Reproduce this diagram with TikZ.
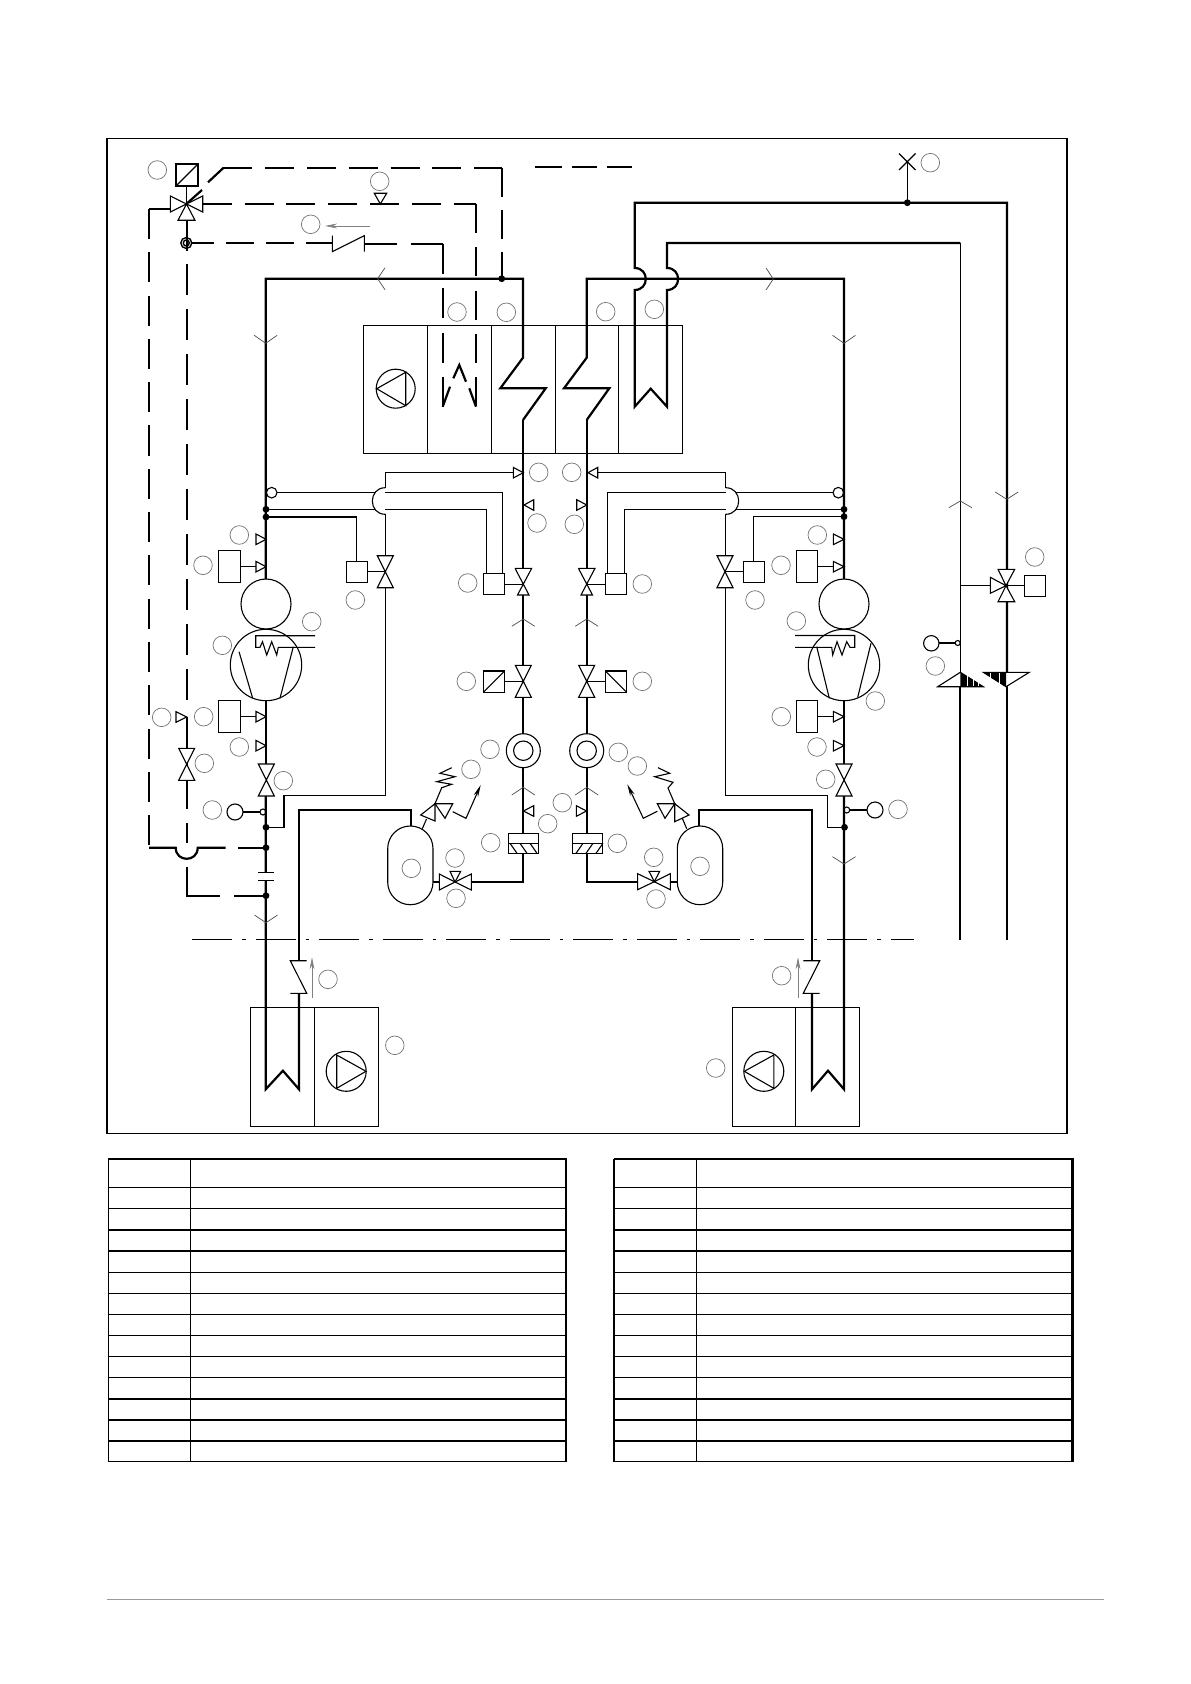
\documentclass[tikz,border=0pt]{standalone}
\usetikzlibrary{arrows.meta}

\tikzset{
  pipe/.style={line width=1.1pt},
  thinl/.style={line width=.55pt},
  tick/.style={line width=.35pt,black!70},
  dsh/.style={line width=1.1pt,dash pattern=on 14.5pt off 6.4pt},
  dshb/.style={line width=1.1pt,dash pattern=on 15pt off 6.65pt},
  lbl/.style={circle,draw=black!55,line width=.35pt,minimum size=9.3pt,inner sep=0pt},
  dotn/.style={circle,fill=black,inner sep=0pt,minimum size=3.4pt},
}
% valve: centre, half width, half height
\newcommand{\valvev}[2]{\draw[thinl,fill=white] (#1-8,#2-16)--(#1+8,#2-16)--(#1-8,#2+16)--(#1+8,#2+16)--cycle;}
% small triangle on a pipe: base x, tip x, y
\newcommand{\flag}[3]{\draw[thinl,fill=white] (#1,#3-5.3)--(#2,#3)--(#1,#3+5.3)--cycle;}
% flow ticks: tip, then the x or y of the arms
\newcommand{\chevv}[3]{\draw[tick] (#1-11.5,#3)--(#1,#2)--(#1+11.5,#3);}
\newcommand{\chevh}[3]{\draw[tick] (#3,#2-11)--(#1,#2)--(#3,#2+11);}

\begin{document}
\begin{tikzpicture}[>={Stealth[length=6pt,width=2.4pt]}, x=.5pt, y=-.5pt]
\useasboundingbox (0,0) rectangle (1190,1684);

\draw[thinl] (107,138.5) rectangle (1067,1133.3);

% air handling unit
\draw[thinl] (363.3,325.3) rectangle (682.3,453.3);
\foreach \x in {427.3,491.3,555.3,618.5}
  \draw[thinl] (\x,325.3)--(\x,453.3);
\draw[thinl] (395.7,388.7) circle (19.5);
\draw[thinl] (405.7,372.3)--(405.7,405.7)--(376.7,388.7)--cycle;

% hot water loops
\draw[pipe] (523,420)--(545.7,388.3)--(500.3,388.3)--(523,357.7)--(523,278.7)--(265.7,278.7)--(265.7,579);
\draw[pipe] (586.7,420)--(609.3,388.3)--(564,388.3)--(586.7,357.7)--(586.7,278.7)--(844,278.7)--(844,579);
\draw[pipe] (523,420)--(523,733.7);
\draw[pipe] (586.7,420)--(586.7,733.7);

% coil and risers on the right
\draw[pipe] (1007,672)--(1007,202.7)--(634.7,202.7)--(634.7,268)
  .. controls (649.5,268) and (649.5,290) .. (634.7,290)--(634.7,406.7)--(650.7,388.7)--(667,406.7)--(667,290)
  .. controls (681.8,290) and (681.8,268) .. (667,268)--(667,243)--(960.3,243);
\draw[thinl] (960.3,243)--(960.3,672.3);
\draw[pipe] (960.3,686)--(960.3,940);
\draw[pipe] (1006.7,686)--(1006.7,940);
\draw[thinl] (907.3,202.7)--(907.3,161.7);
\draw[thinl] (899,153.5)--(915.5,170) (899,170)--(915.5,153.5);
\node[dotn] (vent) at (907.3,202.7) {};

% loose dashes at the top
\foreach \a/\b in {535/562,572/597,607/632}
  \draw[pipe] (\a,166.7)--(\b,166.7);

% control lines, dashed
\draw[pipe] (186.3,204)--(202,190) (208,182.3)--(223.3,168);
\draw[dsh] (223.3,168)--(502,168);
\draw[dsh] (501.7,168)--(501.7,278.7);
\node[dotn] (tee) at (501.7,278.7) {};
\draw[dsh] (202.7,204)--(476,204);
\draw[pipe,dash pattern=on 14.6pt off 7.05pt] (476,204)--(476,406.7);
\draw[pipe] (442.7,406.7)--(450,386.7) (453.3,378.3)--(459.3,365)--(466,381.7) (469.3,388.3)--(476,406.7);
\draw[pipe,dash pattern=on 15pt off 7.25pt] (442.7,243.7)--(442.7,406.7);
\draw[pipe] (364.3,243.7)--(396.7,243.7) (411,243.7)--(442.7,243.7);
\foreach \a/\b in {191/214,226/254.3,266/294,306/332.3}
  \draw[pipe] (\a,243)--(\b,243);
\draw[thinl] (332.3,235.7)--(332.3,251.7)--(364.3,235.7)--(364.3,251.7);

% left hand bypass lines
\draw[pipe] (170,209)--(149,209);
\draw[dshb] (149,209)--(149,847.7);
\draw[pipe] (149,847.7)--(175.7,847.7) .. controls (175.7,862.5) and (197.7,862.5) .. (197.7,847.7)--(225.7,847.7);
\draw[pipe] (238.3,847.7)--(266,847.7);
\draw[pipe] (186.7,220)--(186.7,251);
\draw[pipe,dash pattern=on 15.5pt off 7pt] (186.7,264.3)--(186.7,704);
\draw[pipe] (186.7,717)--(186.7,809) (186.7,823)--(186.7,843);
\draw[pipe] (186.7,866.7)--(186.7,895.7)--(220,895.7) (234,895.7)--(266,895.7);
\draw[line width=.7pt] (186.3,243) circle (5.5) (186.3,243) circle (3);
\flag{176}{186.7}{717}
\valvev{186.7}{764.3}

% three way valve with actuator
\draw[thinl] (176,164) rectangle (198,186);
\draw[thinl] (176,186)--(198,164);
\draw[thinl] (186.7,186)--(186.7,204);
\draw[thinl,fill=white] (186.5,204)--(170.3,196)--(170.3,212)--cycle;
\draw[thinl,fill=white] (186.5,204)--(202.7,196)--(202.7,212)--cycle;
\draw[thinl,fill=white] (186.5,204)--(178,220.3)--(195,220.3)--cycle;
\draw[thinl,fill=white] (374.3,193.3)--(386.7,193.3)--(380.3,204)--cycle;
\draw[black!50,line width=.35pt,->] (370,226)--(325,226);

% left compressor branch
\draw[pipe] (265.7,700.7)--(265.7,764);
\draw[pipe] (265.7,796)--(265.7,872.3) (265.7,880.3)--(265.7,1089.3)--(282.9,1070.7)--(299,1089.3)--(299,993.3);
\draw[pipe] (299,940)--(299,810)--(411,810)--(411,826);
\draw[thinl] (299,940)--(299,960.7);
\draw[thinl] (306.7,960.7)--(290.3,960.7)--(306.7,993.3)--(290.3,993.3);
\draw[black!50,line width=.35pt,->] (312,997.7)--(312,957.3);
\draw[thinl] (258.3,872.3)--(274.3,872.3) (258.3,880.3)--(274.3,880.3);
\draw[thinl] (271.7,492.7) circle (5.3);
\draw[thinl] (277,492.7)--(502.3,492.7)--(502.3,573.3);
\draw[thinl] (266,509.3)--(486.7,509.3)--(486.7,573.3);
\draw[thinl] (266,517)--(356.7,517)--(356.7,561.7);
\node[dotn] (la) at (266,509.3) {};
\node[dotn] (lb) at (266,517) {};
\node[dotn] (lc) at (266,827.3) {};
\node[dotn] (ld) at (266,847.7) {};
\node[dotn] (le) at (266,895.7) {};
\draw[thinl] (523,472.7)--(385.3,472.7)--(385.3,487.7);
\draw[thinl,fill=white] (385.3,487.7) .. controls (368,487.7) and (368,514.3) .. (385.3,514.3);
\draw[thinl] (385.3,514.3)--(385.3,555.7);
\draw[thinl] (385.3,587.7)--(385.3,795.3)--(284,795.3)--(284,827.3)--(266,827.3);
\valvev{385.3}{571.7}
\draw[thinl] (346.3,561.7) rectangle (367.7,582.3);
\draw[thinl] (367.7,571.7)--(385.3,571.7);
\draw[thinl] (266,604) circle (25);
\draw[thinl] (266,665) circle (35.7);
\draw[thinl] (239,651.7)--(252.7,698.3) (293.3,646.7)--(280,698.3);
\draw[thinl] (315,635.7)--(255.7,635.7)--(255.7,647.3)--(260,647.3)--(262.5,641.7)--(266.7,655)--(271.7,641.7)--(276.7,655)--(278.3,647.3)--(315,647.3);
\draw[thinl] (218.3,550.3) rectangle (240.3,582.3);
\draw[thinl] (218.3,700.3) rectangle (240.3,732.3);
\draw[thinl] (240.3,566.7)--(256,566.7) (240.3,716.7)--(256,716.7);
\flag{256}{266}{539.3}
\flag{256}{266}{566.7}
\flag{256}{266}{716.7}
\flag{256}{266}{745.7}
\valvev{266.3}{780}
\draw[thinl] (263,812) circle (3);
\draw[thinl] (260,812)--(243.3,812);
\draw[thinl] (235,812) circle (8);

% left refrigerant line
\draw[pipe] (523.3,767.7)--(523.3,833.3) (523.3,853.3)--(523.3,882)--(471.3,882);
\draw[pipe] (433,882)--(439.3,882);
\draw[thinl,fill=white] (523.3,750.7) circle (17) (523.3,750.7) circle (9.7);
\valvev{523.3}{681.3}
\draw[thinl] (483.3,671) rectangle (504.7,692.3);
\draw[thinl] (483.3,692.3)--(504.7,671);
\draw[thinl] (504.7,681.3)--(523.3,681.3);
\draw[thinl,fill=white] (515,568.3)--(531.7,568.3)--(517.5,595)--(529,595)--(515,568.3);
\draw[thinl] (483.3,573.3) rectangle (504.7,594.3);
\draw[thinl] (504.7,584.3)--(523.3,584.3);
\flag{513.3}{523.3}{472.7}
\flag{533.7}{524}{505}
\flag{533.7}{523.5}{811}
\draw[thinl,fill=white] (508.3,833.3) rectangle (538.3,853.3);
\draw[thinl] (508.3,843.3)--(538.3,843.3);
\foreach \x in {510,520,530}
  \draw[thinl] (\x,843.3)--(\x+7,853.3);
\draw[thinl,fill=white,rounded corners=11.3pt] (387.7,826) rectangle (433,904.7);
\draw[thinl,fill=white] (455,882)--(439.3,874)--(439.3,890)--cycle;
\draw[thinl,fill=white] (455,882)--(471.3,874)--(471.3,890)--cycle;
\draw[thinl,fill=white] (455,882)--(450,871.3)--(460.7,871.3)--cycle;
\draw[thinl] (422.3,828.7)--(426.5,819);
\draw[thinl,fill=white] (435,803.7)--(420.7,815)--(435,821)--cycle;
\draw[thinl,fill=white] (435,803.7)--(452.7,803.7)--(445,818.3)--cycle;
\draw[thinl] (435,803.7)--(441.7,787.7)--(451.7,784.3)--(436.7,781.7)--(455,776.7)--(440,773.3)--(451.7,767.7);
\draw[thinl,->] (452.7,811.7)--(466,818.3)--(480.7,785);

% right compressor branch
\draw[pipe] (844,700.7)--(844,764);
\draw[pipe] (844,796)--(844,1089.3)--(828,1070.7)--(812,1089.3)--(812,993.3);
\draw[pipe] (812,940)--(812,810)--(698.7,810)--(698.7,826);
\draw[thinl] (812,940)--(812,960.7);
\draw[thinl] (803.3,960.7)--(819.7,960.7)--(803.3,993.3)--(819.7,993.3);
\draw[black!50,line width=.35pt,->] (798,997.7)--(798,957.3);
\draw[thinl] (838.3,492.7) circle (5.3);
\draw[thinl] (833,492.7)--(607.7,492.7)--(607.7,573.3);
\draw[thinl] (844,509.3)--(624.3,509.3)--(624.3,573.3);
\draw[thinl] (844,516.7)--(753.3,516.7)--(753.3,561.7);
\node[dotn] (ra) at (844,509.3) {};
\node[dotn] (rb) at (844,516.7) {};
\node[dotn] (rc) at (844.5,827.3) {};
\draw[thinl] (586.7,472.7)--(725.7,472.7)--(725.7,487.7);
\draw[thinl,fill=white] (725.7,487.7) .. controls (743,487.7) and (743,514.3) .. (725.7,514.3);
\draw[thinl] (725.7,514.3)--(725.7,555.7);
\draw[thinl] (725.7,587.7)--(725.7,795.3)--(827.3,795.3)--(827.3,827.3)--(844.5,827.3);
\valvev{725}{571.7}
\draw[thinl] (743.3,561.7) rectangle (764.7,582.3);
\draw[thinl] (725,571.7)--(743.3,571.7);
\draw[thinl] (844,604) circle (25);
\draw[thinl] (844,665) circle (35.7);
\draw[thinl] (816.7,646.7)--(829.3,698.3) (871,643.3)--(857.7,697.3);
\draw[thinl] (795,635.5)--(854.7,635.5)--(854.7,647.3)--(850,647.3)--(846.7,641.7)--(842,655)--(837,641.7)--(832.7,655)--(831.7,647.3)--(795,647.3);
\draw[thinl] (796.3,550.3) rectangle (817.7,582.3);
\draw[thinl] (796.3,700.3) rectangle (817.7,732.3);
\draw[thinl] (817.7,566.7)--(833.3,566.7) (817.7,716.7)--(833.3,716.7);
\flag{833.3}{844}{539.3}
\flag{833.3}{844}{566.7}
\flag{833.3}{844}{716.7}
\flag{833.3}{844}{745.7}
\valvev{844}{780}
\draw[thinl] (846.7,810) circle (3);
\draw[thinl] (849.7,810)--(866.7,810);
\draw[thinl] (875,810) circle (8);

% right refrigerant line
\draw[pipe] (586.7,767.7)--(586.7,833.3) (586.7,853.3)--(586.7,881.7)--(637.3,881.7);
\draw[pipe] (671,881.7)--(677.3,881.7);
\draw[thinl,fill=white] (586.7,750.7) circle (17) (586.7,750.7) circle (9.7);
\valvev{586.7}{681.3}
\draw[thinl] (605.3,671) rectangle (626.7,692.3);
\draw[thinl] (605.3,671)--(626.7,692.3);
\draw[thinl] (586.7,681.3)--(605.3,681.3);
\draw[thinl,fill=white] (578.4,568.3)--(595,568.3)--(581,595)--(592.5,595)--(578.4,568.3);
\draw[thinl] (605.3,573.3) rectangle (626.7,594.3);
\draw[thinl] (586.7,584.3)--(605.3,584.3);
\flag{597.7}{588}{472.7}
\flag{576.7}{586.7}{505}
\flag{576.3}{586.5}{811}
\draw[thinl,fill=white] (572.3,833.3) rectangle (602.7,853.3);
\draw[thinl] (572.3,843.3)--(602.7,843.3);
\foreach \x in {576,586,596}
  \draw[thinl] (\x,853.3)--(\x+7,843.3);
\draw[thinl,fill=white,rounded corners=11.3pt] (677.3,826) rectangle (722.7,904.7);
\draw[thinl,fill=white] (654.3,881.7)--(637.6,873.7)--(637.6,889.7)--cycle;
\draw[thinl,fill=white] (654.3,881.7)--(670.3,873.7)--(670.3,889.7)--cycle;
\draw[thinl,fill=white] (654.3,881.7)--(649,871.3)--(659.7,871.3)--cycle;
\draw[thinl] (686.7,828.7)--(682.3,818.3);
\draw[thinl,fill=white] (674.7,803.7)--(689,815)--(674.7,821.7)--cycle;
\draw[thinl,fill=white] (674.7,803.7)--(657.3,803.7)--(665,818.3)--cycle;
\draw[thinl] (674.7,803.7)--(668,788)--(673,782.3)--(654.7,776.7)--(669.7,773.3)--(658,767.7);
\draw[thinl,->] (657.3,811.3)--(643.3,818.3)--(627.3,784.3);

% valve on the risers
\draw[thinl] (960.3,585.7)--(990.3,585.7);
\draw[thinl,fill=white] (1006,585.7)--(998,569.3)--(1014.7,569.3)--cycle;
\draw[thinl,fill=white] (1006,585.7)--(998,601.7)--(1014.7,601.7)--cycle;
\draw[thinl,fill=white] (1006,585.7)--(990.3,577.3)--(990.3,593.3)--cycle;
\draw[thinl] (1006,585.7)--(1024.3,585.7);
\draw[thinl] (1024.3,575.3) rectangle (1045.7,596.3);
\draw[thinl] (957.7,643) circle (2.5);
\draw[thinl] (955.2,643)--(939,643);
\draw[thinl] (931.3,643.3) circle (7.7);
\draw[thinl,fill=white] (960.3,672.3)--(937.7,686.7)--(983.3,686.7)--cycle;
\fill (960.3,672.3)--(983.3,686.7)--(960.3,686.7)--cycle;
\draw[thinl,fill=white] (1006,686.7)--(983.3,672.3)--(1029.3,672.3)--cycle;
\fill (1006,686.7)--(983.3,672.3)--(1006,672.3)--cycle;
\foreach \x in {967.3,973.3,978.3,990.7,999.3}
  \draw[white,line width=.5pt] (\x,673)--(\x,686);

% pumps and coils at the bottom
\draw[thinl] (250.4,1007.3) rectangle (378.7,1126.7);
\draw[thinl] (314.5,1007.3)--(314.5,1126.7);
\draw[thinl] (346.2,1071.3) circle (20);
\draw[thinl] (336.7,1055)--(336.7,1088.3)--(366,1071.3)--cycle;
\draw[thinl] (732.6,1007.3) rectangle (859.6,1126.7);
\draw[thinl] (795.5,1007.3)--(795.5,1126.7);
\draw[thinl] (763.8,1071.3) circle (20);
\draw[thinl] (773.8,1055)--(773.8,1088.3)--(744.3,1071.3)--cycle;

% flow ticks
\chevh{377.7}{278.7}{385}
\chevh{773.3}{279}{766}
\chevv{265.7}{343.3}{335.3}
\chevv{844}{343.3}{335.3}
\chevv{523.3}{619}{626.3}
\chevv{586.7}{619}{626.3}
\chevv{523.3}{787.3}{795}
\chevv{586.7}{787.3}{795}
\chevv{266}{922.7}{915}
\chevv{844}{864}{856.7}
\chevv{960.3}{501}{507.7}
\chevv{1006.7}{499.3}{492}

% boundary
\draw[thinl,dash pattern=on 20pt off 5pt on 1.75pt off 5pt] (192,939.3)--(914,939.3);

% the empty callouts
\foreach \x/\y [count=\i] in {157.3/170,379.7/181.3,310.7/224.3,930.3/162.7,457/312,506.3/312.3,605.7/311.7,654.3/309.3,
  538.7/472.3,571.7/472.3,537/523,574.3/524.3,239.3/535,203/565.3,311.7/621.7,222.3/645.3,355.3/600,467.7/583,466.3/681.3,
  161.7/717.3,203.7/716.7,239.3/747,204.3/763.3,283.3/780.7,212.3/810,490/749.3,471/769.3,562.3/802.7,547.7/823.7,490.7/842.7,
  411.3/868.3,455/858,456/898.3,328/979.3,394.8/1045.3,
  642.3/584,642.3/681.3,618.3/752.3,637.3/766,617.3/843.3,653.7/857.3,656/899,700/866.3,
  817.3/535,781/565.3,755/600,796.3/621,875.3/701,781.3/716.7,817/747,825.7/779.3,898/809.3,
  781.6/975.7,715.7/1068,1034.7/557,935.3/666}
  \node[lbl] (call\i) at (\x,\y) {};

% tables
\foreach \a/\b/\c/\w in {108.3/190.3/565.7/.55,613.8/696.9/1072.4/1.1}{
  \draw[thinl] (\a,1461.7)--(\c,1461.7);
  \draw[line width=\w pt] (\a,1159)--(\a,1461.7);
  \draw[thinl] (\b,1159)--(\b,1461.7);
  \draw[pipe] (\a,1159)--(\c,1159)--(\c,1461.7);
  \foreach \y in {1187.3,1208.3,1272.3,1293.3,1314.3,1335.3,1356.3,1377.3}
    \draw[thinl] (\a,\y)--(\c,\y);
  \foreach \y in {1229.7,1250.7,1398.7,1419.7,1440.7}
    \draw[pipe] (\a,\y)--(\c,\y);
}

\definecolor{footline}{RGB}{208,140,90}
\draw[footline,line width=.7pt] (106.5,1599.3)--(1104,1599.3);
\end{tikzpicture}
\end{document}
